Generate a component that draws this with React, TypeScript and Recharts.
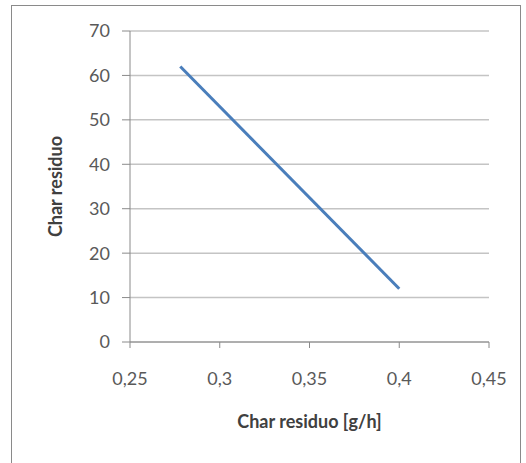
import { LineChart, Line, XAxis, YAxis, CartesianGrid } from 'recharts';

const charX = [0.278, 0.4];
const charY = [62, 12];
const xTicks = [0.25, 0.3, 0.35, 0.4, 0.45];
const yTicks = [0, 10, 20, 30, 40, 50, 60, 70];

const dados = charX.map((x, i) => ({ x, y: charY[i] }));

const fonte = 'Lato, "Liberation Sans", sans-serif';
const tickStyle = { fontSize: 18, fill: '#595959', fontFamily: fonte };

function YTitle({ viewBox }: any) {
  const cx = viewBox.x + 55;
  const cy = viewBox.y + viewBox.height / 2;
  return (
    <text
      x={cx}
      y={cy}
      transform={`rotate(-90 ${cx} ${cy})`}
      textAnchor="middle"
      dominantBaseline="central"
      fontSize={18}
      fontWeight="bold"
      fill="#404040"
      fontFamily={fonte}
    >
      Char residuo
    </text>
  );
}

function XTitle({ viewBox }: any) {
  const cx = viewBox.x + viewBox.width / 2;
  const cy = viewBox.y + 86;
  return (
    <text x={cx} y={cy} textAnchor="middle" fontSize={18} fontWeight="bold" fill="#404040" fontFamily={fonte}>
      Char residuo [g/h]
    </text>
  );
}

export default function App() {
  return (
    <div style={{ position: 'absolute', left: 0, top: 0, width: 526, height: 463, background: '#fff' }}>
      <div
        style={{
          position: 'absolute',
          left: 11,
          top: 5,
          width: 510,
          height: 470,
          border: '1px solid #8a8a8a',
          boxSizing: 'border-box',
        }}
      />
      <div style={{ position: 'absolute', left: 0, top: 0 }}>
        <LineChart width={526} height={463} data={dados} margin={{ top: 31, right: 37, left: 0, bottom: 0 }}>
          <CartesianGrid vertical={false} stroke="#c4c4c4" strokeWidth={1.5} />
          <XAxis
            dataKey="x"
            type="number"
            domain={[0.25, 0.45]}
            ticks={xTicks}
            tickFormatter={(v) => String(v).replace('.', ',')}
            tick={tickStyle}
            tickSize={6}
            tickMargin={24}
            stroke="#8a8a8a"
            height={121}
            label={<XTitle />}
          />
          <YAxis
            dataKey="y"
            type="number"
            domain={[0, 70]}
            ticks={yTicks}
            tick={tickStyle}
            tickSize={8}
            tickMargin={12}
            stroke="#8a8a8a"
            width={130}
            label={<YTitle />}
          />
          <Line
            type="linear"
            dataKey="y"
            stroke="#4a7ebb"
            strokeWidth={3}
            dot={false}
            isAnimationActive={false}
          />
        </LineChart>
      </div>
    </div>
  );
}
